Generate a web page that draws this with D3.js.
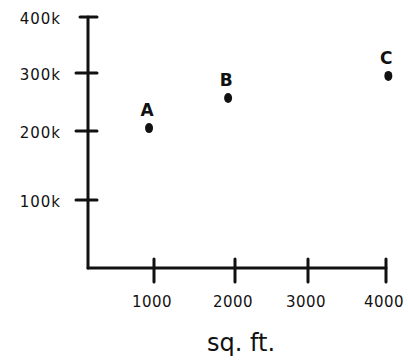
<!DOCTYPE html>
<html>
<head>
<meta charset="utf-8">
<script src="https://cdn.jsdelivr.net/npm/d3@7"></script>
<style>
  body { margin: 0; background: #fff; }
  svg { display: block; }
  text { font-family: 'DejaVu Sans', sans-serif; fill: #111; }
</style>
</head>
<body>
<svg class="chart"></svg>
<script>
const width = 408
const height = 364

// houses: size in sq. ft. and price
const names = ['A', 'B', 'C']
const sqft = [925, 1915, 4030]
const prices = [205000, 257000, 295000]

const xTicks = [0, 1000, 2000, 3000, 4000]
const yTicks = [0, 100000, 200000, 300000, 400000]
const xTitle = 'sq. ft.'

// hand-drawn axes: ticks are not quite evenly spaced, so piecewise scales
const x = d3.scaleLinear().domain(xTicks).range([88, 154, 235, 308, 386])
const y = d3.scaleLinear().domain(yTicks).range([268, 200, 131, 73, 17])
const fmtK = d => (d / 1000) + 'k'

const svg = d3.select('.chart')
  .attr('width', width)
  .attr('height', height)

const ink = '#111'

// y axis
svg.append('line')
  .attr('x1', x(0)).attr('x2', x(0))
  .attr('y1', y(400000)).attr('y2', y(0))
  .attr('stroke', ink).attr('stroke-width', 3).attr('stroke-linecap', 'round')

svg.append('g')
  .selectAll('line')
  .data(yTicks.slice(1))
  .join('line')
  .attr('x1', d => d === 400000 ? 80 : 76).attr('x2', 97)
  .attr('y1', d => y(d)).attr('y2', d => y(d))
  .attr('stroke', ink).attr('stroke-width', 3).attr('stroke-linecap', 'round')

svg.append('g')
  .selectAll('text')
  .data(yTicks.slice(1))
  .join('text')
  .attr('x', 61)
  .attr('y', d => y(d) + 2)
  .attr('text-anchor', 'end')
  .attr('dominant-baseline', 'central')
  .style('font-size', '15px')
  .style('letter-spacing', '1px')
  .text(fmtK)

// x axis
svg.append('line')
  .attr('x1', x(0)).attr('x2', x(4000))
  .attr('y1', y(0)).attr('y2', y(0))
  .attr('stroke', ink).attr('stroke-width', 3).attr('stroke-linecap', 'round')

svg.append('g')
  .selectAll('line')
  .data(xTicks.slice(1))
  .join('line')
  .attr('x1', d => x(d)).attr('x2', d => x(d))
  .attr('y1', 259).attr('y2', 282)
  .attr('stroke', ink).attr('stroke-width', 3).attr('stroke-linecap', 'round')

svg.append('g')
  .selectAll('text')
  .data(xTicks.slice(1))
  .join('text')
  .attr('x', d => x(d) - 2)
  .attr('y', 302)
  .attr('text-anchor', 'middle')
  .attr('dominant-baseline', 'central')
  .style('font-size', '15px')
  .style('letter-spacing', '0.5px')
  .text(d => d)

svg.append('text')
  .attr('x', 241)
  .attr('y', 343)
  .attr('text-anchor', 'middle')
  .attr('dominant-baseline', 'central')
  .style('font-size', '24px')
  .text(xTitle)

// points
const pts = names.map((n, i) => ({ name: n, sqft: sqft[i], price: prices[i] }))

svg.append('g')
  .selectAll('ellipse')
  .data(pts)
  .join('ellipse')
  .attr('cx', d => x(d.sqft))
  .attr('cy', d => y(d.price))
  .attr('rx', 4)
  .attr('ry', 5)
  .attr('fill', ink)

svg.append('g')
  .selectAll('text')
  .data(pts)
  .join('text')
  .attr('x', d => x(d.sqft) - 2)
  .attr('y', d => y(d.price) - 18)
  .attr('text-anchor', 'middle')
  .attr('dominant-baseline', 'central')
  .style('font-size', '17px')
  .style('font-weight', 'bold')
  .text(d => d.name)
</script>
</body>
</html>
